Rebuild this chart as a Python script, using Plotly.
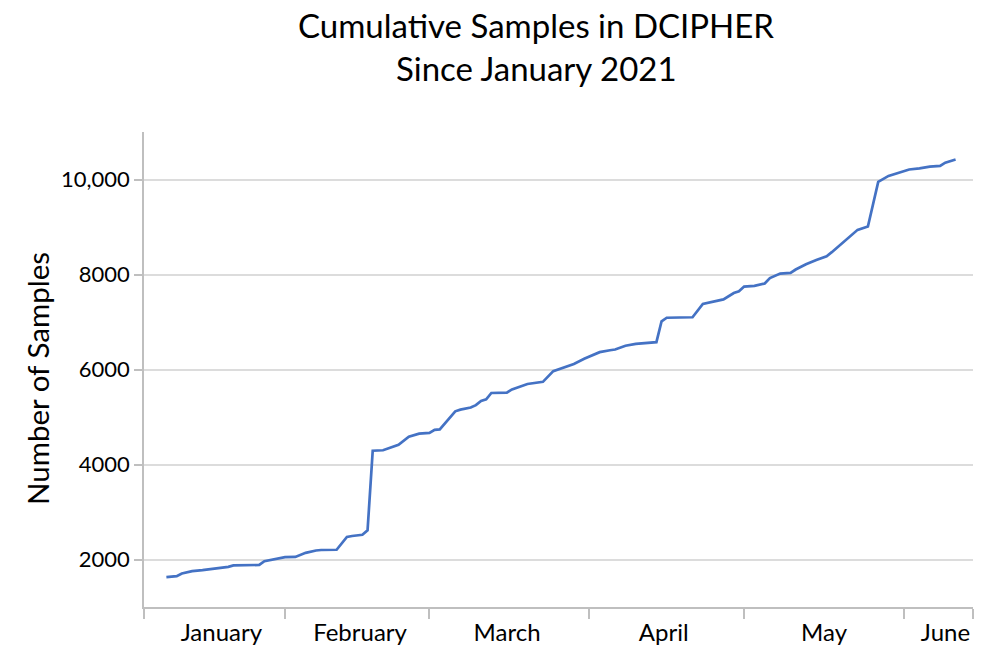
import plotly.graph_objects as go

dates = [
    "2021-01-09", "2021-01-11", "2021-01-12", "2021-01-14", "2021-01-16", "2021-01-19",
    "2021-01-21", "2021-01-22", "2021-01-24", "2021-01-27", "2021-01-28", "2021-01-30",
    "2021-02-01", "2021-02-03", "2021-02-05", "2021-02-07", "2021-02-08", "2021-02-11",
    "2021-02-13", "2021-02-14", "2021-02-16", "2021-02-17", "2021-02-18", "2021-02-20",
    "2021-02-22", "2021-02-23", "2021-02-25", "2021-02-27", "2021-03-01", "2021-03-02",
    "2021-03-03", "2021-03-06", "2021-03-07", "2021-03-09", "2021-03-10", "2021-03-11",
    "2021-03-12", "2021-03-13", "2021-03-16", "2021-03-17", "2021-03-20", "2021-03-21",
    "2021-03-23", "2021-03-25", "2021-03-26", "2021-03-29", "2021-03-31", "2021-04-03",
    "2021-04-05", "2021-04-06", "2021-04-08", "2021-04-10", "2021-04-14", "2021-04-15",
    "2021-04-16", "2021-04-21", "2021-04-23", "2021-04-25", "2021-04-27", "2021-04-29",
    "2021-04-30", "2021-05-01", "2021-05-03", "2021-05-05", "2021-05-06", "2021-05-08",
    "2021-05-10", "2021-05-11", "2021-05-13", "2021-05-15", "2021-05-17", "2021-05-18",
    "2021-05-20", "2021-05-22", "2021-05-23", "2021-05-25", "2021-05-27", "2021-05-29",
    "2021-05-31", "2021-06-02", "2021-06-04", "2021-06-06", "2021-06-08", "2021-06-09",
    "2021-06-11",
]
samples = [
    1630, 1650, 1705, 1755, 1775, 1810,
    1845, 1875, 1880, 1885, 1965, 2015,
    2050, 2055, 2140, 2190, 2200, 2205,
    2475, 2495, 2520, 2615, 4290, 4300,
    4375, 4415, 4585, 4650, 4665, 4730,
    4740, 5120, 5155, 5200, 5250, 5340,
    5370, 5505, 5515, 5580, 5695, 5715,
    5740, 5965, 6000, 6115, 6225, 6365,
    6405, 6420, 6500, 6540, 6575, 7015,
    7090, 7100, 7380, 7425, 7475, 7610,
    7645, 7745, 7760, 7810, 7925, 8020,
    8035, 8105, 8215, 8305, 8385, 8470,
    8665, 8845, 8940, 9010, 9950, 10075,
    10145, 10210, 10235, 10270, 10285, 10355,
    10420,
]

month_labels = ["January", "February", "March", "April", "May", "June"]
month_label_pos = ["2021-01-19 16:00", "2021-02-15 13:00", "2021-03-16 01:00",
                   "2021-04-15 10:00", "2021-05-16 12:00", "2021-06-09 01:00"]
month_bounds = ["2021-01-04 15:50", "2021-02-01", "2021-03-01", "2021-04-01",
                "2021-05-01", "2021-06-01", "2021-06-14 09:00"]

y_tickvals = [2000, 4000, 6000, 8000, 10000]
y_ticktext = ["2000", "4000", "6000", "8000", "10,000"]

title_lines = ["Cumulative Samples in DCIPHER", "Since January 2021"]
y_title = "Number of Samples"

FONT = "Lato"

fig = go.Figure()
fig.add_trace(go.Scatter(
    x=dates, y=samples, mode="lines",
    line=dict(color="#4472C4", width=2.7),
    showlegend=False,
))

fig.update_layout(
    width=997, height=648,
    margin=dict(l=144, r=24, t=132, b=41),
    paper_bgcolor="white", plot_bgcolor="white",
    font=dict(family=FONT, color="#000000"),
)

for text, ypos in zip(title_lines, [1.2252, 1.1347]):
    fig.add_annotation(
        text=text, xref="paper", yref="paper", x=0.4729, y=ypos,
        xanchor="center", yanchor="middle", showarrow=False,
        font=dict(family=FONT, size=33, color="#000000"),
    )

fig.add_annotation(
    text=y_title, xref="paper", yref="paper", x=-0.129, y=0.48,
    xanchor="center", yanchor="middle", showarrow=False, textangle=-90,
    font=dict(family=FONT, size=29.5, color="#000000"),
)

fig.update_xaxes(
    type="date", automargin=False,
    range=[month_bounds[0], month_bounds[-1]],
    showgrid=False, zeroline=False,
    showline=True, linecolor="#bfbfbf", linewidth=1.5,
    tickmode="array", tickvals=month_label_pos, ticktext=month_labels,
    ticks="outside", ticklen=3, tickcolor="rgba(0,0,0,0)",
    tickfont=dict(family=FONT, size=24, color="#000000"),
    minor=dict(tickmode="array", tickvals=month_bounds, ticks="outside",
               ticklen=10, tickcolor="#bfbfbf", tickwidth=1.5, showgrid=False),
)

fig.update_yaxes(
    range=[1000, 11000], automargin=False,
    showgrid=True, gridcolor="#dcdcdc", gridwidth=1.5,
    zeroline=False,
    showline=True, linecolor="#bfbfbf", linewidth=1.5,
    tickmode="array", tickvals=y_tickvals, ticktext=y_ticktext,
    ticks="outside", ticklen=8, tickcolor="#bfbfbf", tickwidth=1.5,
    tickfont=dict(family=FONT, size=22, color="#000000"),
)

fig.write_html("out.html", config={"displayModeBar": False},
               post_script="document.body.style.margin='0';")
